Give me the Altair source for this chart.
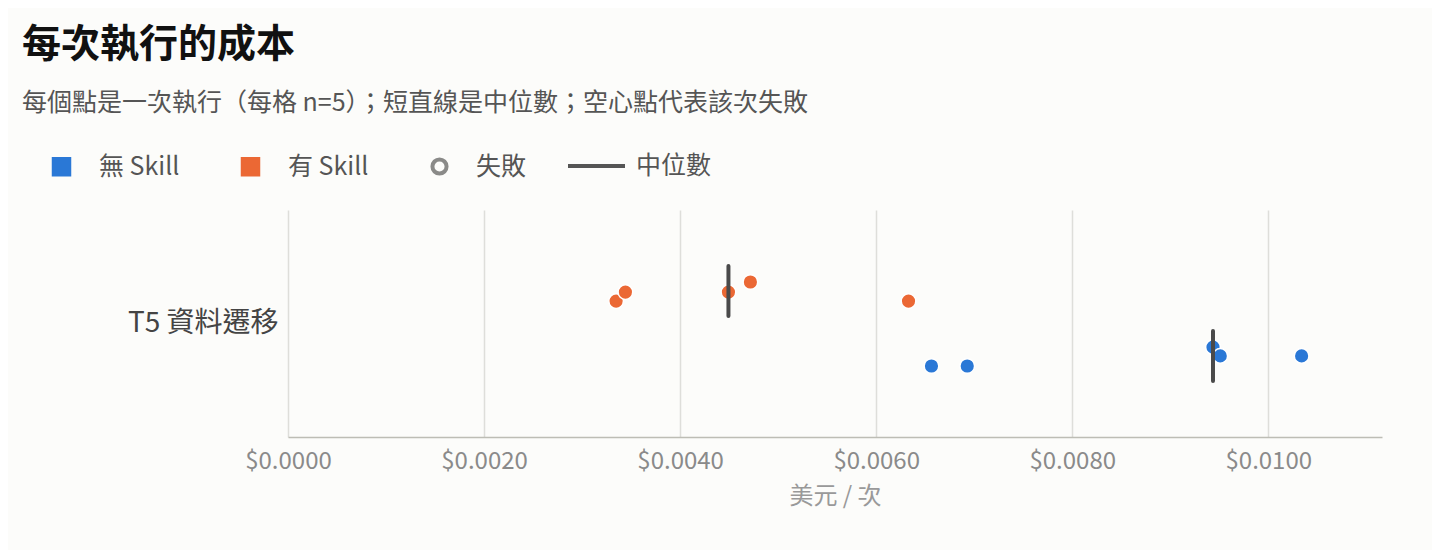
import altair as alt
import pandas as pd

# ---- data ----
group_names = ["無 Skill", "有 Skill"]
group_colors = ["#2a78d6", "#eb6834"]
group_lane = [-1, 1]                       # lane of each group inside the task row

cost_without = [0.006564, 0.006929, 0.009436, 0.009510, 0.010340]
jitter_without = [-0.31, -0.31, 0.27, 0.0, 0.0]
cost_with = [0.003347, 0.003442, 0.004493, 0.004717, 0.006330]
jitter_with = [-0.31, -0.03, -0.03, 0.28, -0.31]
status_without = ["成功"] * 5
status_with = ["成功"] * 5

task_label = "T5 資料遷移"
tick_values = [0.0, 0.002, 0.004, 0.006, 0.008, 0.010]

rows = []
for g, lane, costs, jits, stats in [
    (group_names[0], group_lane[0], cost_without, jitter_without, status_without),
    (group_names[1], group_lane[1], cost_with, jitter_with, status_with),
]:
    for c, j, s in zip(costs, jits, stats):
        rows.append({"group": g, "cost": c, "lane": lane + j, "base": lane,
                     "status": s, "kind": "中位數"})
df = pd.DataFrame(rows)

FONT = "Noto Sans CJK TC"
HALF = 0.77   # half length of the median rule, in lane units

x_scale = alt.Scale(domain=[0, 0.01116], nice=False, zero=True)
y_scale = alt.Scale(domain=[-3.5, 3.5], nice=False, zero=False)
x_axis = alt.Axis(values=tick_values, format="$.4f", title="美元 / 次", grid=True,
                  gridColor="#dededa", gridWidth=1.5, domainColor="#bdbdb5", domainWidth=1.5,
                  ticks=False, labelFontSize=24, labelColor="#8a8a8a", labelPadding=12,
                  labelFlush=False, labelFont=FONT, titleFont=FONT, titleFontSize=24,
                  titleColor="#999999", titleFontWeight="normal", titlePadding=11)
y_axis = alt.Axis(values=[0], labelExpr="'" + task_label + "'", grid=False, domain=False,
                  ticks=False, labelFontSize=28, labelColor="#444444", labelPadding=10,
                  labelFont=FONT, title=None)

points = alt.Chart(df).mark_point(filled=True, size=215, stroke="white", strokeWidth=1.5,
                                  opacity=1).encode(
    x=alt.X("cost:Q", scale=x_scale, axis=x_axis),
    y=alt.Y("lane:Q", scale=y_scale, axis=y_axis),
    color=alt.Color("group:N", scale=alt.Scale(domain=group_names, range=group_colors),
                    legend=alt.Legend(orient="none", legendX=-239, legendY=-56,
                                      direction="horizontal", title=None, symbolType="square",
                                      symbolSize=380, symbolStrokeWidth=0, labelFontSize=25,
                                      labelColor="#555555", labelFont=FONT, labelOffset=25,
                                      columnPadding=58)),
    shape=alt.Shape("status:N", scale=alt.Scale(domain=["成功", "失敗"], range=["circle", "circle"]),
                    legend=alt.Legend(values=["失敗"], orient="none", legendX=139, legendY=-56,
                                      direction="horizontal", title=None, symbolSize=200,
                                      symbolFillColor="transparent", symbolStrokeColor="#8a8a88",
                                      symbolStrokeWidth=4, labelFontSize=25, labelColor="#555555",
                                      labelFont=FONT, labelOffset=24)),
)

medians = alt.Chart(df).transform_aggregate(
    med="median(cost)", groupby=["group", "base", "kind"]
).transform_calculate(
    lo=f"datum.base - {HALF}", hi=f"datum.base + {HALF}"
).mark_rule(strokeWidth=4, color="#4a4a4a", strokeCap="round", opacity=1).encode(
    x=alt.X("med:Q", scale=x_scale, axis=x_axis),
    y=alt.Y("lo:Q", scale=y_scale, axis=y_axis),
    y2="hi:Q",
    strokeDash=alt.StrokeDash("kind:N", scale=alt.Scale(domain=["中位數"], range=[[1, 0]]),
                              legend=alt.Legend(orient="none", legendX=278, legendY=-74.5,
                                                direction="horizontal",
                                                title=None, symbolType="stroke", symbolSize=3249,
                                                symbolStrokeColor="#555555", symbolStrokeWidth=4,
                                                labelFontSize=25, labelColor="#555555",
                                                labelFont=FONT, labelOffset=9)),
)

chart = alt.layer(points, medians).properties(
    width=1094, height=227,
    padding={"left": 280, "top": 202, "right": 50, "bottom": 113},
    autosize=alt.AutoSizeParams(type="none"),
    background="#fcfcfa",
    title=alt.Title("每次執行的成本",
                    subtitle="每個點是一次執行（每格 n=5）；短直線是中位數；空心點代表該次失敗",
                    anchor="start", frame="group", dx=-266, offset=20,
                    font=FONT, fontSize=39, fontWeight="bold", color="#111111",
                    subtitleFont=FONT, subtitleFontSize=25, subtitleColor="#555555",
                    subtitlePadding=26),
).configure_view(stroke=None)

chart.save("out.html", embed_options={"renderer": "svg", "actions": False})
